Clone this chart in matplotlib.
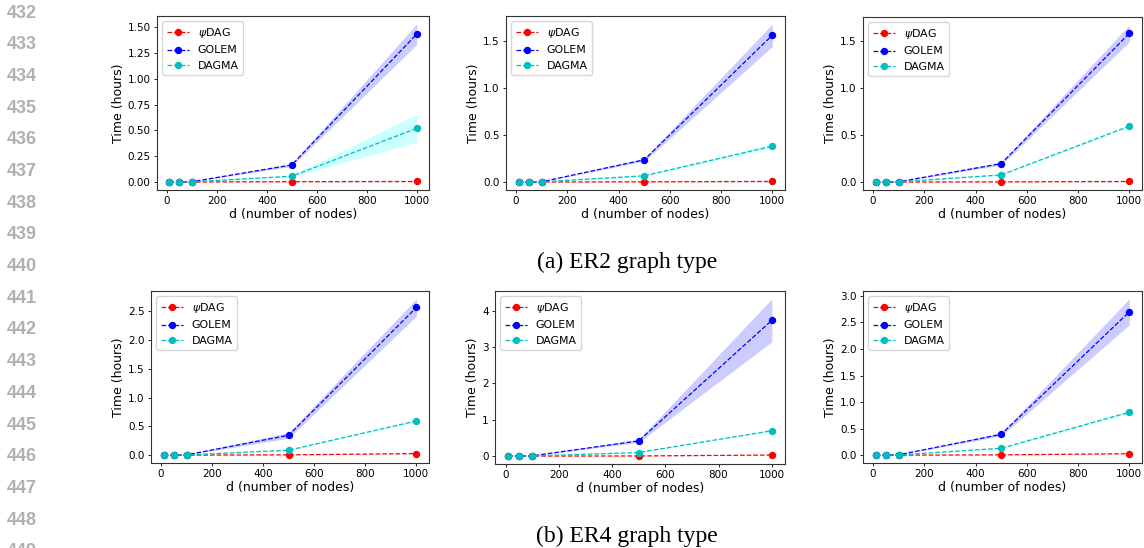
import numpy as np
import matplotlib
matplotlib.use('Agg')
import matplotlib.pyplot as plt
from matplotlib.ticker import MultipleLocator

#%% data, one row per panel: ER2 x3, then ER4 x3
nodes = [10, 50, 100, 500, 1000]
methods = ['$\\psi$DAG', 'GOLEM', 'DAGMA']

psidag_mean = [[0.0002, 0.0005, 0.001, 0.004, 0.006],
               [0.0002, 0.0005, 0.001, 0.003, 0.007],
               [0.0002, 0.0005, 0.001, 0.003, 0.007],
               [0.0002, 0.0005, 0.001, 0.006, 0.028],
               [0.0002, 0.0005, 0.001, 0.005, 0.030],
               [0.0002, 0.0005, 0.001, 0.006, 0.028]]
psidag_std = [[0.0, 0.0, 0.0, 0.001, 0.002]] * 6

golem_mean = [[0.001, 0.002, 0.004, 0.166, 1.43],
              [0.001, 0.002, 0.004, 0.237, 1.56],
              [0.001, 0.002, 0.004, 0.197, 1.58],
              [0.001, 0.002, 0.006, 0.347, 2.57],
              [0.001, 0.002, 0.008, 0.420, 3.74],
              [0.001, 0.002, 0.008, 0.393, 2.70]]
golem_std = [[0.0, 0.0, 0.001, 0.012, 0.10],
             [0.0, 0.0, 0.001, 0.015, 0.12],
             [0.0, 0.0, 0.001, 0.015, 0.09],
             [0.0, 0.0, 0.002, 0.050, 0.15],
             [0.0, 0.0, 0.002, 0.040, 0.59],
             [0.0, 0.0, 0.002, 0.030, 0.245]]

dagma_mean = [[0.001, 0.002, 0.003, 0.057, 0.52],
              [0.001, 0.002, 0.003, 0.067, 0.382],
              [0.001, 0.002, 0.003, 0.077, 0.595],
              [0.001, 0.002, 0.004, 0.087, 0.596],
              [0.001, 0.002, 0.004, 0.100, 0.70],
              [0.001, 0.002, 0.004, 0.131, 0.81]]
dagma_std = [[0.0, 0.0, 0.001, 0.008, 0.135],
             [0.0, 0.0, 0.001, 0.008, 0.02],
             [0.0, 0.0, 0.001, 0.006, 0.01],
             [0.0, 0.0, 0.001, 0.006, 0.012],
             [0.0, 0.0, 0.001, 0.008, 0.015],
             [0.0, 0.0, 0.001, 0.010, 0.03]]

ytick_step = [0.25, 0.5, 0.5, 0.5, 1, 0.5]
ytick_fmt = ['%.2f', '%.1f', '%.1f', '%.1f', '%d', '%.1f']
captions = ['(a) ER2 graph type', '(b) ER4 graph type']
line_numbers = list(range(432, 450))

#%% layout in pixels: left, right, top, bottom
W, H = 1144, 548
boxes = [(157, 429, 16, 190), (506, 785, 16, 190), (863, 1142, 17, 190),
         (151, 429, 291, 463), (495, 785, 291, 464), (863, 1142, 291, 463)]
colors = ['r', 'b', 'c']
band_colors = ['red', 'blue', 'cyan']

fig = plt.figure(figsize=(W / 100, H / 100), dpi=100)

for k, (l, r, t, b) in enumerate(boxes):
    ax = fig.add_axes([l / W, 1 - b / H, (r - l) / W, (b - t) / H])
    means = [psidag_mean[k], golem_mean[k], dagma_mean[k]]
    stds = [psidag_std[k], golem_std[k], dagma_std[k]]
    for name, m, s, c, bc in zip(methods, means, stds, colors, band_colors):
        m = np.array(m)
        s = np.array(s)
        ax.plot(nodes, m, '--o', color=c, label=name, lw=0.9, ms=4.3)
        ax.fill_between(nodes, m - s, m + s, color=bc, alpha=0.2, lw=0)
    ax.yaxis.set_major_locator(MultipleLocator(ytick_step[k]))
    ax.yaxis.set_major_formatter(plt.FormatStrFormatter(ytick_fmt[k]))
    ax.set_xticks([0, 200, 400, 600, 800, 1000])
    ax.tick_params(labelsize=7.5, length=2.5, width=0.6, pad=2)
    ax.set_xlabel('d (number of nodes)', fontsize=9, labelpad=1)
    ax.set_ylabel('Time (hours)', fontsize=9, labelpad=2)
    for sp in ax.spines.values():
        sp.set_linewidth(0.8)
        sp.set_color('#333333')
    ax.legend(loc='upper left', fontsize=7.9, framealpha=0.8)

# subfigure captions
fig.text(627 / W, 1 - 262 / H, captions[0], fontsize=17,
         family='Liberation Serif', ha='center', va='center')
fig.text(627 / W, 1 - 536 / H, captions[1], fontsize=17,
         family='Liberation Serif', ha='center', va='center')

# paper line numbers in the margin
for i, n in enumerate(line_numbers):
    fig.text(7 / W, 1 - (13 + 31.7 * i) / H, str(n), fontsize=13,
             family='Liberation Sans', color='#b0b0b0', fontweight='bold',
             ha='left', va='center')

fig.savefig('out.png', dpi=100)
